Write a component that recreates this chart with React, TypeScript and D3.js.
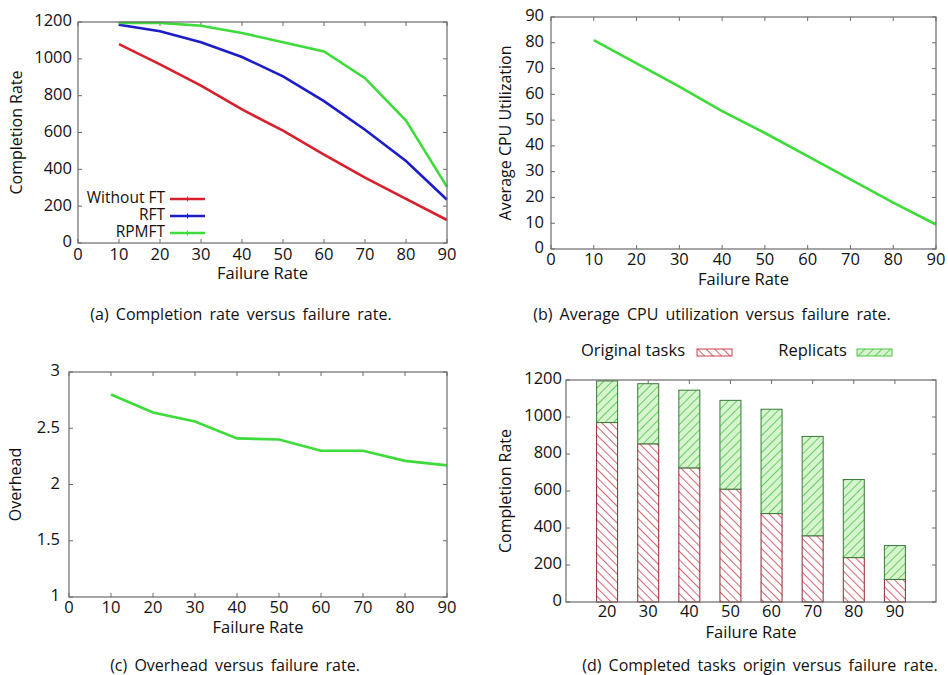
import React, { useRef, useEffect } from 'react';
import * as d3 from 'd3';

const failRates = [10, 20, 30, 40, 50, 60, 70, 80, 90];
const withoutFT = [1080, 970, 855, 725, 610, 480, 355, 240, 125];
const rft = [1185, 1150, 1090, 1010, 905, 770, 615, 445, 235];
const rpmft = [1195, 1195, 1180, 1140, 1090, 1040, 895, 665, 305];
const cpuUtil = [81, 72, 63, 53.5, 45, 36, 27, 18, 9.5];
const overhead = [2.8, 2.64, 2.56, 2.41, 2.4, 2.3, 2.3, 2.21, 2.17];

const barRates = [20, 30, 40, 50, 60, 70, 80, 90];
const originalTasks = [970, 855, 725, 610, 478, 358, 240, 122];
const replicats = [225, 325, 420, 480, 564, 537, 422, 183];

const captions = [
  '(a) Completion rate versus failure rate.',
  '(b) Average CPU utilization versus failure rate.',
  '(c) Overhead versus failure rate.',
  '(d) Completed tasks origin versus failure rate.',
];

const FONT = '"Open Sans", sans-serif';
const RED = '#d8202c';
const BLUE = '#1c1cc8';
const GREEN = '#3ddc3a';
const AXIS = '#6a6a6a';

function App() {
  const svgRef = useRef(null);

  useEffect(() => {
    if (!svgRef.current) return;
    const svg = d3.select(svgRef.current);
    svg.selectAll('*').remove();

    const defs = svg.append('defs');
    const hatch = (id, bg, fg, dir) => {
      const p = defs.append('pattern')
        .attr('id', id)
        .attr('patternUnits', 'userSpaceOnUse')
        .attr('width', 6).attr('height', 6)
        .attr('patternTransform', `rotate(${dir})`);
      p.append('rect').attr('width', 6).attr('height', 6).attr('fill', bg);
      p.append('line').attr('x1', 0).attr('y1', 0).attr('x2', 0).attr('y2', 6)
        .attr('stroke', fg).attr('stroke-width', 1.6);
    };
    hatch('hRed', '#ffffff', '#c8404c', -45);
    hatch('hGreen', '#d6f5cf', '#4cc444', 45);

    // generic gnuplot-like frame
    const panel = (o) => {
      const x = d3.scaleLinear().domain(o.xDomain).range([o.left, o.right]);
      const y = d3.scaleLinear().domain(o.yDomain).range([o.bottom, o.top]);
      const g = svg.append('g');
      const tl = 4;
      o.xTicks.forEach(t => {
        g.append('line').attr('x1', x(t)).attr('x2', x(t)).attr('y1', o.bottom).attr('y2', o.bottom - tl).attr('stroke', AXIS);
        g.append('line').attr('x1', x(t)).attr('x2', x(t)).attr('y1', o.top).attr('y2', o.top + tl).attr('stroke', AXIS);
        g.append('text').attr('x', x(t)).attr('y', o.bottom + o.xTickDy)
          .attr('text-anchor', 'middle').attr('dominant-baseline', 'middle')
          .attr('font-size', 16.5).attr('font-family', FONT).attr('fill', '#111')
          .text(t);
      });
      o.yTicks.forEach(t => {
        g.append('line').attr('x1', o.left).attr('x2', o.left + tl).attr('y1', y(t)).attr('y2', y(t)).attr('stroke', AXIS);
        g.append('line').attr('x1', o.right).attr('x2', o.right - tl).attr('y1', y(t)).attr('y2', y(t)).attr('stroke', AXIS);
        g.append('text').attr('x', o.left - o.yTickDx).attr('y', y(t))
          .attr('text-anchor', 'end').attr('dominant-baseline', 'middle')
          .attr('font-size', 16.5).attr('font-family', FONT).attr('fill', '#111')
          .text(t);
      });
      g.append('text').attr('x', (o.left + o.right) / 2).attr('y', o.bottom + 32)
        .attr('text-anchor', 'middle').attr('dominant-baseline', 'middle')
        .attr('font-size', 16.5).attr('font-family', FONT).attr('fill', '#111')
        .text('Failure Rate');
      g.append('text')
        .attr('transform', `translate(${o.left - o.yLabelDx},${(o.top + o.bottom) / 2}) rotate(-90)`)
        .attr('text-anchor', 'middle').attr('dominant-baseline', 'middle')
        .attr('font-size', 16).attr('font-family', FONT).attr('fill', '#111')
        .text(o.yLabel);
      return { x, y, g, border: () => g.append('rect')
        .attr('x', o.left).attr('y', o.top).attr('width', o.right - o.left).attr('height', o.bottom - o.top)
        .attr('fill', 'none').attr('stroke', AXIS).attr('stroke-width', 1.2) };
    };

    const xTicks = d3.range(0, 91, 10);

    // (a)
    const a = panel({ left: 78, right: 447, top: 22, bottom: 243, xDomain: [0, 90], yDomain: [0, 1200],
      xTicks, yTicks: d3.range(0, 1201, 200), xTickDy: 13, yTickDx: 6, yLabelDx: 60, yLabel: 'Completion Rate' });
    const lineA = d3.line().x((d, i) => a.x(failRates[i])).y(d => a.y(d));
    [[withoutFT, RED], [rft, BLUE], [rpmft, GREEN]].forEach(([s, c]) => {
      a.g.append('path').attr('d', lineA(s)).attr('fill', 'none').attr('stroke', c).attr('stroke-width', 2.6);
    });
    a.border();
    const legA = [['Without FT', RED], ['RFT', BLUE], ['RPMFT', GREEN]];
    legA.forEach(([name, c], i) => {
      const ly = 199 + i * 17;
      a.g.append('text').attr('x', 165).attr('y', ly).attr('text-anchor', 'end').attr('dominant-baseline', 'middle')
        .attr('font-size', 15.5).attr('font-family', FONT).attr('fill', '#111').text(name);
      a.g.append('line').attr('x1', 170).attr('x2', 205).attr('y1', ly).attr('y2', ly).attr('stroke', c).attr('stroke-width', 2.6);
      a.g.append('line').attr('x1', 187.5).attr('x2', 187.5).attr('y1', ly - 2.5).attr('y2', ly + 2.5).attr('stroke', c).attr('stroke-width', 1);
    });

    // (b)
    const b = panel({ left: 551, right: 936, top: 17, bottom: 249, xDomain: [0, 90], yDomain: [0, 90],
      xTicks, yTicks: d3.range(0, 91, 10), xTickDy: 12, yTickDx: 7, yLabelDx: 44, yLabel: 'Average CPU Utilization' });
    const lineB = d3.line().x((d, i) => b.x(failRates[i])).y(d => b.y(d));
    b.g.append('path').attr('d', lineB(cpuUtil)).attr('fill', 'none').attr('stroke', GREEN).attr('stroke-width', 2.6);
    b.border();

    // (c)
    const c = panel({ left: 69, right: 447, top: 372, bottom: 597, xDomain: [0, 90], yDomain: [1, 3],
      xTicks, yTicks: [1, 1.5, 2, 2.5, 3], xTickDy: 12, yTickDx: 9, yLabelDx: 52, yLabel: 'Overhead' });
    const lineC = d3.line().x((d, i) => c.x(failRates[i])).y(d => c.y(d));
    c.g.append('path').attr('d', lineC(overhead)).attr('fill', 'none').attr('stroke', GREEN).attr('stroke-width', 2.6);
    c.border();

    // (d)
    const d = panel({ left: 566, right: 936, top: 380, bottom: 602, xDomain: [10, 100], yDomain: [0, 1200],
      xTicks: barRates, yTicks: d3.range(0, 1201, 200), xTickDy: 11, yTickDx: 4, yLabelDx: 59, yLabel: 'Completion Rate' });
    const bw = 21;
    barRates.forEach((r, i) => {
      const x0 = d.x(r) - bw / 2;
      d.g.append('rect').attr('x', x0).attr('y', d.y(originalTasks[i])).attr('width', bw)
        .attr('height', d.y(0) - d.y(originalTasks[i]))
        .attr('fill', 'url(#hRed)').attr('stroke', '#8a2a30').attr('stroke-width', 1);
      d.g.append('rect').attr('x', x0).attr('y', d.y(originalTasks[i] + replicats[i])).attr('width', bw)
        .attr('height', d.y(originalTasks[i]) - d.y(originalTasks[i] + replicats[i]))
        .attr('fill', 'url(#hGreen)').attr('stroke', '#3a7a3a').attr('stroke-width', 1);
    });
    d.border();
    const legD = [['Original tasks', 685, 697, 'url(#hRed)', '#c8404c'], ['Replicats', 847, 857, 'url(#hGreen)', '#4cc444']];
    legD.forEach(([name, tx, sx, fill, st]) => {
      d.g.append('text').attr('x', tx).attr('y', 352).attr('text-anchor', 'end').attr('dominant-baseline', 'middle')
        .attr('font-size', 16.5).attr('font-family', FONT).attr('fill', '#111').text(name);
      d.g.append('rect').attr('x', sx).attr('y', 349).attr('width', 35).attr('height', 7)
        .attr('fill', fill).attr('stroke', st).attr('stroke-width', 1);
    });

    // captions
    const capPos = [[241, 316], [712, 316], [235, 667], [760, 667]];
    captions.forEach((t, i) => {
      svg.append('text').attr('x', capPos[i][0]).attr('y', capPos[i][1])
        .attr('text-anchor', 'middle').attr('dominant-baseline', 'middle')
        .attr('font-size', 16).attr('font-family', FONT).attr('fill', '#111')
        .attr('word-spacing', 3).text(t);
    });
  }, []);

  return (
    <svg ref={svgRef} width={948} height={675}
      style={{ position: 'absolute', left: 0, top: 0, background: '#fff' }} />
  );
}

export default App;
